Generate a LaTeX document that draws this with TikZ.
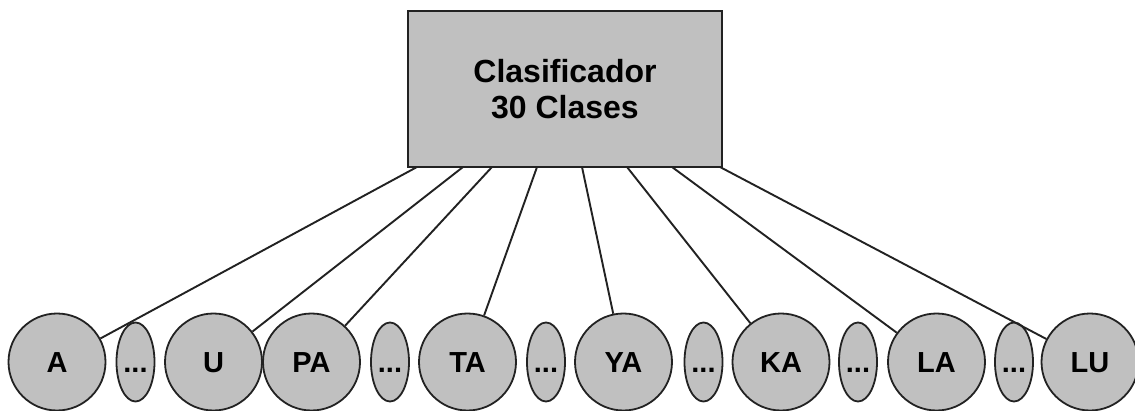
\documentclass[tikz,border=0pt]{standalone}
\usepackage{fontspec}
\setmainfont{Liberation Sans}
\usetikzlibrary{shapes.geometric}

\begin{document}
\begin{tikzpicture}[x=1pt,y=1pt]
\definecolor{fillColor}{RGB}{192,192,192}
\definecolor{drawColor}{RGB}{34,34,34}
\tikzset{
  box/.style={draw=drawColor,line width=2.2pt,fill=fillColor,minimum width=314pt,minimum height=156pt,inner sep=0pt,align=center,font=\fontsize{32}{36}\selectfont\bfseries},
  clase/.style={circle,draw=drawColor,line width=1.8pt,fill=fillColor,minimum size=97pt,inner sep=0pt,text height=21pt,text depth=0pt,font=\fontsize{29}{32}\selectfont\bfseries},
  resto/.style={ellipse,draw=drawColor,line width=1.8pt,fill=fillColor,minimum width=38pt,minimum height=79pt,inner sep=0pt,text height=21pt,text depth=0pt,font=\fontsize{29}{32}\selectfont\bfseries},
  link/.style={draw=drawColor,line width=1.9pt}
}
\path[use as bounding box,fill=white] (0,0) rectangle (1135,410);

\node[box] (clf) at (565,321) {Clasificador\\30 Clases};

% fila de clases
\node[clase] (a)  at (57,48)    {A};
\node[resto] (r1) at (135.5,48) {...};
\node[clase] (u)  at (213.5,48) {U};
\node[clase] (pa) at (311.5,48) {PA};
\node[resto] (r2) at (390,48)   {...};
\node[clase] (ta) at (467.5,48) {TA};
\node[resto] (r3) at (546,48)   {...};
\node[clase] (ya) at (623.5,48) {YA};
\node[resto] (r4) at (703.5,48) {...};
\node[clase] (ka) at (781,48)   {KA};
\node[resto] (r5) at (858,48)   {...};
\node[clase] (la) at (936.5,48) {LA};
\node[resto] (r6) at (1014,48)  {...};
\node[clase] (lu) at (1090,48)  {LU};

% salidas en el borde inferior
\coordinate (s1) at (417,243);
\coordinate (s2) at (463,243);
\coordinate (s3) at (492,243);
\coordinate (s4) at (537,243);
\coordinate (s5) at (582,243);
\coordinate (s6) at (627,243);
\coordinate (s7) at (672,243);
\coordinate (s8) at (720,243);

\foreach \s/\c in {s1/a,s2/u,s3/pa,s4/ta,s5/ya,s6/ka,s7/la,s8/lu}
  \path[link] (\s) -- (\c);
\end{tikzpicture}
\end{document}
